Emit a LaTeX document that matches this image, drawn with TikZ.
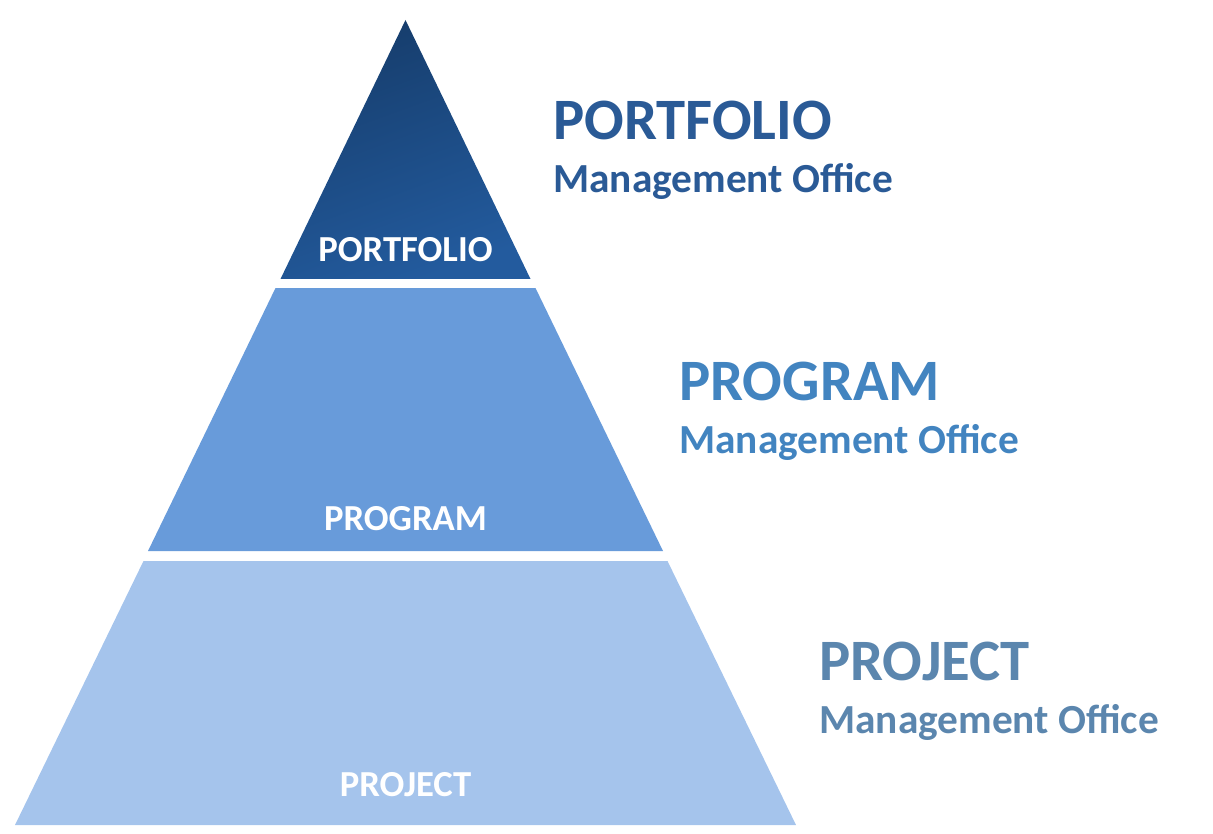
\documentclass[tikz,border=0pt]{standalone}
\usepackage{fontspec}
\setmainfont{Carlito}
\usepackage{tikz}
\usetikzlibrary{positioning}

\definecolor{portdark}{HTML}{163D6C}
\definecolor{portlight}{HTML}{235B9E}
\definecolor{progfill}{HTML}{689BDA}
\definecolor{projfill}{HTML}{A5C4EC}
\definecolor{porttext}{HTML}{2A5A96}
\definecolor{progtext}{HTML}{4284C0}
\definecolor{projtext}{HTML}{5B86AE}

\begin{document}
\begin{tikzpicture}[x=0.75pt, y=-0.75pt,
    tier/.style = {draw=none},
    inlabel/.style = {anchor=base, text=white, font=\fontsize{27.5}{30}\selectfont\bfseries, inner sep=0pt},
    head/.style = {anchor=base west, font=\fontsize{44}{48}\selectfont\bfseries, inner sep=0pt},
    sub/.style = {anchor=base west, font=\fontsize{31}{34}\selectfont\bfseries, inner sep=0pt}]
    \useasboundingbox (0,0) rectangle (1213,834);

    % Tiers

    \begin{scope}[y=0.75pt]
    \shade[tier, top color=portdark, bottom color=portlight, shading angle=20]
        (405.5,-20) -- (530.5,-279) -- (280.5,-279) -- cycle;
    \end{scope}
    \fill[tier, progfill] (275.5,288) -- (535.5,288) -- (663,551) -- (148,551) -- cycle;
    \fill[tier, projfill] (143.5,561) -- (667.5,561) -- (796,825) -- (15,825) -- cycle;

    % Nodes

    \node[inlabel] (portin) at (405.5,262) {PORTFOLIO};
    \node[inlabel] (progin) at (405.5,530) {PROGRAM};
    \node[inlabel] (projin) at (405.5,796) {PROJECT};

    \node[head, text=porttext] (porthead) at (553,140) {PORTFOLIO};
    \node[sub, text=porttext] (portsub) at (553,193) {Management Office};

    \node[head, text=progtext] (proghead) at (679,400) {PROGRAM};
    \node[sub, text=progtext] (progsub) at (679,453) {Management Office};

    \node[head, text=projtext] (projhead) at (819,680) {PROJECT};
    \node[sub, text=projtext] (projsub) at (819,733) {Management Office};

\end{tikzpicture}
\end{document}
